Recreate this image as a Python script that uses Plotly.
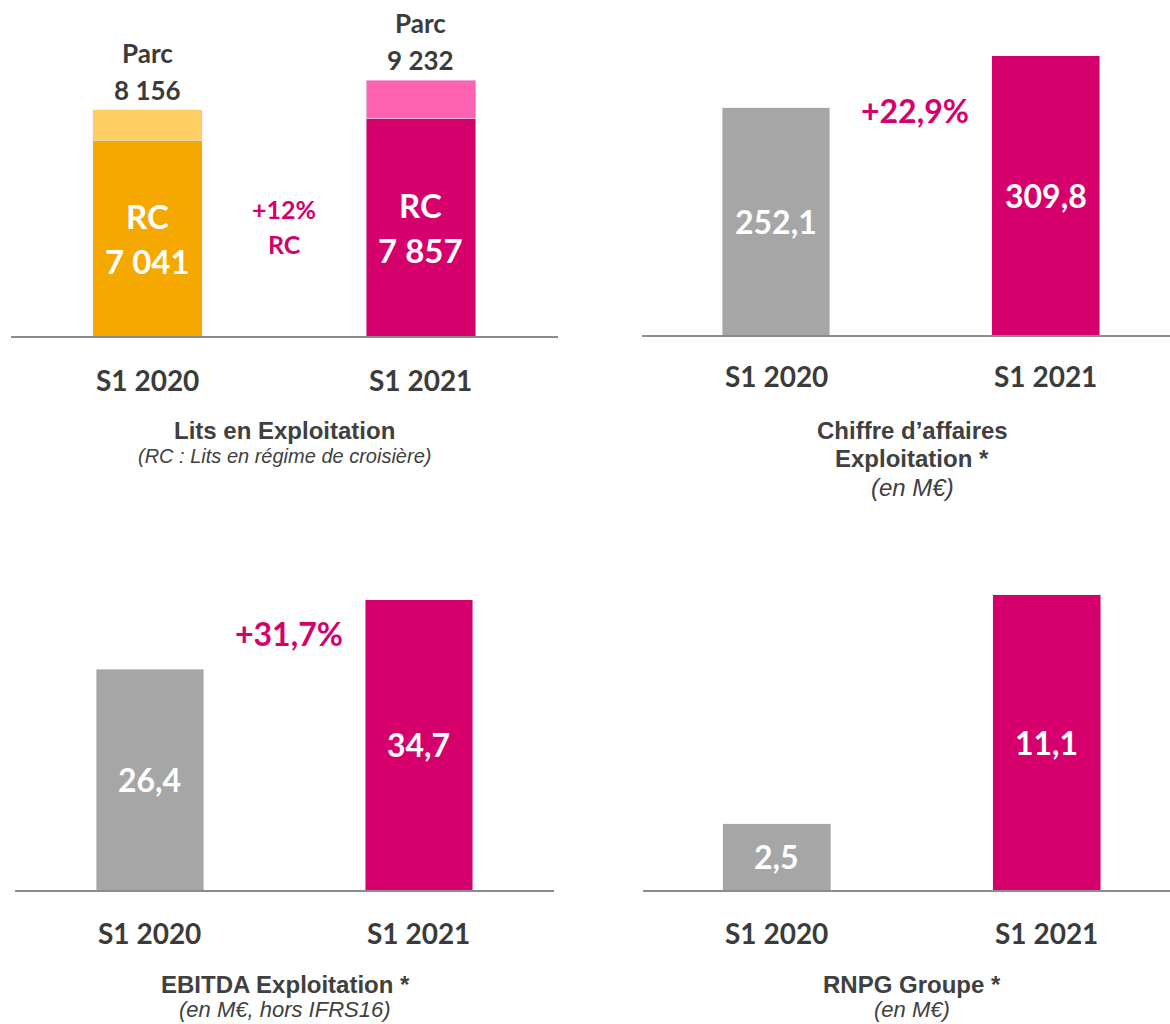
import plotly.graph_objects as go

# ---- data ----
categories = ["S1 2020", "S1 2021"]
rc_beds = [7041, 7857]
parc_beds = [8156, 9232]
ca_values = [252.1, 309.8]
ebitda_values = [26.4, 34.7]
rnpg_values = [2.5, 11.1]
rc_labels = ["7 041", "7 857"]
parc_labels = ["8 156", "9 232"]
ca_labels = ["252,1", "309,8"]
ebitda_labels = ["26,4", "34,7"]
rnpg_labels = ["2,5", "11,1"]
growth_rc = "+12%"
growth_ca = "+22,9%"
growth_ebitda = "+31,7%"

# ---- styles ----
W, H = 1170, 1024
MAGENTA = "#D5006C"
PINK = "#FF62B3"
ORANGE = "#F5A800"
LORANGE = "#FECD64"
GREY = "#A6A6A6"
TXT = "#3B3B3B"
TTXT = "#404040"
LINE = "#8C8C8C"
NUMFONT = "Lato"
TITLEFONT = "Liberation Sans, Arial"

def px(x):
    return x / W

def py(y):
    return 1 - y / H

fig = go.Figure()

# panel 1 : stacked beds
fig.add_trace(go.Bar(x=categories, y=rc_beds, marker_color=[ORANGE, MAGENTA],
                     width=0.4, xaxis="x", yaxis="y", showlegend=False, hoverinfo="skip"))
fig.add_trace(go.Bar(x=categories, y=[p - r for p, r in zip(parc_beds, rc_beds)],
                     marker_color=[LORANGE, PINK], width=0.4,
                     xaxis="x", yaxis="y", showlegend=False, hoverinfo="skip"))
# panel 2
fig.add_trace(go.Bar(x=categories, y=ca_values, marker_color=[GREY, MAGENTA], width=0.4,
                     xaxis="x2", yaxis="y2", showlegend=False, hoverinfo="skip"))
# panel 3
fig.add_trace(go.Bar(x=categories, y=ebitda_values, marker_color=[GREY, MAGENTA], width=0.4,
                     xaxis="x3", yaxis="y3", showlegend=False, hoverinfo="skip"))
# panel 4
fig.add_trace(go.Bar(x=categories, y=rnpg_values, marker_color=[GREY, MAGENTA], width=0.4,
                     xaxis="x4", yaxis="y4", showlegend=False, hoverinfo="skip"))

def xax(domain, rng, anchor):
    return dict(domain=domain, range=rng, type="category", showticklabels=False,
                showline=True, linecolor=LINE, linewidth=2, ticks="", showgrid=False,
                zeroline=False, anchor=anchor, fixedrange=True)

def yax(domain, rng, anchor):
    return dict(domain=domain, range=rng, showticklabels=False, showline=False,
                showgrid=False, zeroline=False, ticks="", anchor=anchor, fixedrange=True)

fig.update_layout(
    width=W, height=H, margin=dict(l=0, r=0, t=0, b=0),
    paper_bgcolor="white", plot_bgcolor="white", barmode="stack",
    font=dict(family=NUMFONT, color=TXT),
    xaxis=xax([px(10.7), px(558)], [-0.5, 1.501], "y"),
    yaxis=yax([py(336), 1], [0, 12117], "x"),
    xaxis2=xax([px(641.5), 1], [-0.499, 1.461], "y2"),
    yaxis2=yax([py(335), 1], [0, 371.4], "x2"),
    xaxis3=xax([px(15.4), px(554)], [-0.5, 1.502], "y3"),
    yaxis3=yax([py(890), py(560)], [0, 39.43], "x3"),
    xaxis4=xax([px(643), 1], [-0.495, 1.456], "y4"),
    yaxis4=yax([py(890), py(560)], [0, 12.41], "x4"),
)

ann = []

def add(text, x, y, xref, yref, size, color, family=NUMFONT, yshift=0, xshift=0, **kw):
    ann.append(dict(text=text, x=x, y=y, xref=xref, yref=yref, showarrow=False,
                    font=dict(size=size, color=color, family=family),
                    xanchor="center", yanchor="middle", yshift=yshift, xshift=xshift,
                    borderpad=0, **kw))

# panel 1 labels
for c, r, p, rl, pl in zip(categories, rc_beds, parc_beds, rc_labels, parc_labels):
    add("<b>RC</b>", c, r / 2, "x", "y", 33, "white", yshift=22)
    add("<b>" + rl + "</b>", c, r / 2, "x", "y", 33, "white", yshift=-23)
    add("<b>Parc</b>", c, p, "x", "y", 26, TXT, yshift=57)
    add("<b>" + pl + "</b>", c, p, "x", "y", 26, TXT, yshift=20)

add("<b>" + growth_rc + "</b>", px(284), py(209), "paper", "paper", 25, MAGENTA)
add("<b>RC</b>", px(284), py(244), "paper", "paper", 25, MAGENTA)

# panels 2-4 value labels
for vals, labs, xr, yr in [(ca_values, ca_labels, "x2", "y2"),
                           (ebitda_values, ebitda_labels, "x3", "y3"),
                           (rnpg_values, rnpg_labels, "x4", "y4")]:
    for c, v, l in zip(categories, vals, labs):
        add("<b>" + l + "</b>", c, v / 2, xr, yr, 32, "white")

add("<b>" + growth_ca + "</b>", px(914.5), py(110), "paper", "paper", 32, MAGENTA)
add("<b>" + growth_ebitda + "</b>", px(288.6), py(633), "paper", "paper", 32, MAGENTA)

# category labels
for xr, ypix in [("x", 380), ("x2", 376), ("x3", 933), ("x4", 933)]:
    for c in categories:
        add("<b>" + c + "</b>", c, py(ypix), xr, "paper", 28, TXT)

# panel titles (one annotation per line)
def title_line(text, xc, yc, size, bold=True):
    t = "<b>" + text + "</b>" if bold else "<i>" + text + "</i>"
    add(t, px(xc), py(yc), "paper", "paper", size, TTXT, family=TITLEFONT)

title_line("Lits en Exploitation", 284, 430, 24)
title_line("(RC : Lits en régime de croisière)", 284, 456, 20, bold=False)

title_line("Chiffre d’affaires", 912, 430, 24)
title_line("Exploitation *", 912, 458, 24)
title_line("(en M€)", 912, 487, 24, bold=False)

title_line("EBITDA Exploitation *", 285, 984, 24)
title_line("(en M€, hors IFRS16)", 285, 1009, 22, bold=False)

title_line("RNPG Groupe *", 912, 984, 24)
title_line("(en M€)", 912, 1009, 22, bold=False)

fig.update_layout(annotations=ann)
fig.write_html("out.html")
